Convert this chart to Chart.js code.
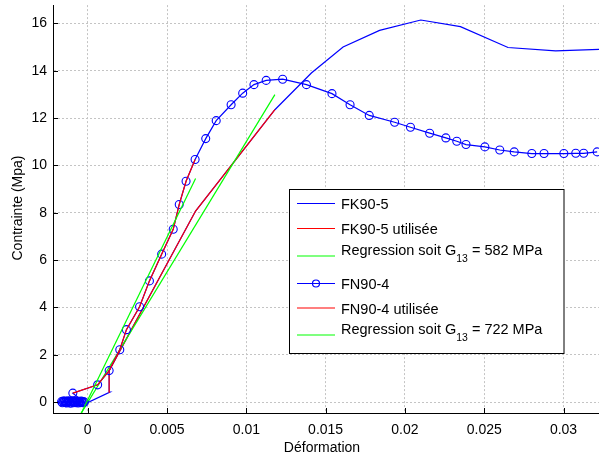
<!DOCTYPE html>
<html>
<head>
<meta charset="utf-8">
<script src="https://cdn.jsdelivr.net/npm/chart.js@4.4.0/dist/chart.umd.min.js"></script>
<style>
  html, body { margin: 0; padding: 0; background: #fff; }
  #wrap { width: 604px; height: 457px; }
</style>
</head>
<body>
<div id="wrap"><canvas id="stressChart" width="604" height="457"></canvas></div>
<script>
// axis ticks
const xTicks = [0, 0.005, 0.01, 0.015, 0.02, 0.025, 0.03];
const xTickLabels = ['0', '0.005', '0.01', '0.015', '0.02', '0.025', '0.03'];
const yTicks = [0, 2, 4, 6, 8, 10, 12, 14, 16];
const yTickLabels = ['0', '2', '4', '6', '8', '10', '12', '14', '16'];
const xMin = -0.00219, xMax = 0.03223;
const yMin = -0.46, yMax = 16.77;

// FK90-5 (blue line)
const fk905X = [-0.0016, -0.0012, -0.0008, -0.0004, -0.0001, 0.0014, 0.00135, 0.0068, 0.0118, 0.0141, 0.0161, 0.0184, 0.0210, 0.0235, 0.0265, 0.0295, 0.0323];
const fk905Y = [0.0, 0.02, 0.0, 0.03, -0.05, 0.42, 1.33, 8.07, 12.35, 13.9, 15.0, 15.7, 16.14, 15.86, 14.98, 14.84, 14.9];

// FK90-5 part used for the fit (red)
const fk905UsedX = [0.0014, 0.00135, 0.0068, 0.0118];
const fk905UsedY = [0.42, 1.33, 8.07, 12.35];

// regression FK90-5 (green)
const fk905RegX = [-0.00044, 0.0118];
const fk905RegY = [-0.5, 12.99];

// FN90-4 (blue line with circles)
const fn904X = [-0.00165, -0.0016, -0.00155, -0.0015, -0.00146, -0.00141, -0.00137, -0.00132, -0.00127, -0.00123, -0.00118,
  -0.00113, -0.00108, -0.00104, -0.00099, -0.00094, -0.0009, -0.00085, -0.0008, -0.00075, -0.0007, -0.00066, -0.00061,
  -0.00056, -0.00051, -0.00046, -0.00041, -0.00036, -0.00031, -0.00026, -0.00021,
  -0.00094, 0.000625, 0.00135, 0.00202, 0.00244, 0.00327, 0.00389, 0.00466, 0.00539, 0.00577, 0.0062, 0.00677,
  0.00744, 0.0081, 0.00904, 0.00977, 0.01048, 0.01125, 0.01229, 0.01379, 0.0154, 0.01654, 0.01775, 0.01935, 0.02035,
  0.02156, 0.02258, 0.02327, 0.02385, 0.02504, 0.02598, 0.02689, 0.028, 0.02877, 0.03002, 0.03077, 0.03127, 0.03212];
const fn904Y = [0.02, -0.03, 0.04, 0.0, 0.05, -0.02, 0.03, -0.04, 0.01, 0.06, -0.01, 0.03, -0.05, 0.02, 0.05,
  0.0, -0.03, 0.04, 0.01, -0.02, 0.05, 0.0, -0.04, 0.03, 0.01, -0.02, 0.04, 0.0, -0.03, 0.02, -0.01,
  0.38, 0.73, 1.33, 2.21, 3.06, 4.03, 5.12, 6.25, 7.3, 8.35, 9.33, 10.25,
  11.13, 11.89, 12.56, 13.05, 13.41, 13.59, 13.64, 13.41, 13.03, 12.56, 12.11, 11.82, 11.61,
  11.36, 11.16, 11.02, 10.88, 10.78, 10.65, 10.57, 10.5, 10.5, 10.5, 10.51, 10.51, 10.57];

// FN90-4 part used for the fit (red)
const fn904UsedX = [-0.00094, 0.000625, 0.00135, 0.00202, 0.00244, 0.00327, 0.00389, 0.00466, 0.00539, 0.00577, 0.0062, 0.00677];
const fn904UsedY = [0.38, 0.73, 1.33, 2.21, 3.06, 4.03, 5.12, 6.25, 7.3, 8.35, 9.33, 10.25];

// regression FN90-4 (green)
const fn904RegX = [-0.00043, 0.0068];
const fn904RegY = [-0.5, 9.45];

const legendLabels = ['FK90-5', 'FK90-5 utilisée', 'Regression soit G_{13} = 582 MPa',
                      'FN90-4', 'FN90-4 utilisée', 'Regression soit G_{13} = 722 MPa'];

const FONT = 'Liberation Sans, Arial, sans-serif';

function pts(xs, ys) {
    return xs.map((x, i) => ({ x: x, y: ys[i] }));
}

function lineSet(label, xs, ys, color, order) {
    return {
        label: label,
        data: pts(xs, ys),
        showLine: true,
        borderColor: color,
        borderWidth: 1.2,
        pointRadius: 0,
        tension: 0,
        order: order
    };
}

const datasets = [
    lineSet(legendLabels[0], fk905X, fk905Y, '#0000ff', 6),
    lineSet(legendLabels[1], fk905UsedX, fk905UsedY, '#ff0000', 5),
    lineSet(legendLabels[2], fk905RegX, fk905RegY, '#00ff00', 4),
    Object.assign(lineSet(legendLabels[3], fn904X, fn904Y, '#0000ff', 3), {
        pointRadius: 4,
        pointBorderColor: '#0000ff',
        pointBackgroundColor: 'rgba(0,0,0,0)',
        pointBorderWidth: 1.1
    }),
    lineSet(legendLabels[4], fn904UsedX, fn904UsedY, '#ff0000', 2),
    lineSet(legendLabels[5], fn904RegX, fn904RegY, '#00ff00', 1)
];

// draws text with an optional _{..} subscript part
function drawRichText(ctx, text, x, y, size) {
    const parts = text.split(/_\{(\d+)\}/);
    ctx.textBaseline = 'middle';
    ctx.textAlign = 'left';
    if (parts.length === 1) {
        ctx.font = size + 'px ' + FONT;
        ctx.fillText(text, x, y + 1.5);
        return;
    }
    let cx = x;
    parts.forEach((p, i) => {
        if (i % 2 === 1) {
            ctx.font = (size * 0.72) + 'px ' + FONT;
            ctx.fillText(p, cx, y + 3);
        } else {
            ctx.font = size + 'px ' + FONT;
            ctx.fillText(p, cx, y - 5);
        }
        cx += ctx.measureText(p).width;
    });
}

const decorPlugin = {
    id: 'decor',
    afterDraw(chart) {
        const ctx = chart.ctx;
        const area = chart.chartArea;
        const xs = chart.scales.x, ys = chart.scales.y;
        ctx.save();

        // inward tick marks
        ctx.strokeStyle = '#000';
        ctx.lineWidth = 1;
        ctx.beginPath();
        xTicks.forEach(v => {
            const px = Math.round(xs.getPixelForValue(v)) + 0.5;
            ctx.moveTo(px, area.bottom);
            ctx.lineTo(px, area.bottom - 5);
        });
        yTicks.forEach(v => {
            const py = Math.round(ys.getPixelForValue(v)) + 0.5;
            ctx.moveTo(area.left, py);
            ctx.lineTo(area.left + 5, py);
        });
        ctx.stroke();

        // axis titles
        ctx.fillStyle = '#000';
        ctx.font = '14px ' + FONT;
        ctx.textAlign = 'center';
        ctx.textBaseline = 'middle';
        ctx.fillText('Déformation', 322, 448);
        ctx.save();
        ctx.translate(18, 208);
        ctx.rotate(-Math.PI / 2);
        ctx.fillText('Contrainte (Mpa)', 0, 0);
        ctx.restore();

        // legend box
        ctx.fillStyle = '#fff';
        ctx.fillRect(289.5, 189.5, 274.5, 164);
        ctx.strokeStyle = '#000';
        ctx.lineWidth = 1;
        ctx.strokeRect(289.5, 189.5, 274.5, 164);
        const rowY = [203.5, 228.5, 256, 283.5, 308, 335];
        chart.data.datasets.forEach((ds, i) => {
            const y = rowY[i];
            ctx.strokeStyle = ds.borderColor;
            ctx.lineWidth = 1.2;
            ctx.beginPath();
            ctx.moveTo(297, y);
            ctx.lineTo(335, y);
            ctx.stroke();
            if (ds.pointRadius > 0) {
                ctx.beginPath();
                ctx.arc(316, y, 3.5, 0, Math.PI * 2);
                ctx.strokeStyle = ds.pointBorderColor;
                ctx.stroke();
            }
            ctx.fillStyle = '#000';
            drawRichText(ctx, ds.label, 341, y, 14.5);
        });
        ctx.restore();
    }
};

const ctx = document.getElementById('stressChart').getContext('2d');
const stressChart = new Chart(ctx, {
    type: 'scatter',
    data: { datasets: datasets },
    options: {
        responsive: false,
        animation: false,
        layout: { padding: { top: 3, right: 0, bottom: 0, left: 0 } },
        plugins: { legend: { display: false }, tooltip: { enabled: false } },
        scales: {
            x: {
                type: 'linear',
                min: xMin,
                max: xMax,
                afterBuildTicks: s => { s.ticks = xTicks.map(v => ({ value: v })); },
                afterFit: s => { s.height = 44; s.paddingLeft = 0; s.paddingRight = 0; },
                ticks: {
                    color: '#000',
                    font: { family: FONT, size: 14 },
                    padding: 9,
                    maxRotation: 0,
                    autoSkip: false,
                    callback: (value, index) => xTickLabels[index]
                },
                grid: { color: '#c4c4c4', lineWidth: 1, drawTicks: false },
                border: { display: true, color: '#000', width: 1, dash: [2, 2] }
            },
            y: {
                type: 'linear',
                min: yMin,
                max: yMax,
                afterBuildTicks: s => { s.ticks = yTicks.map(v => ({ value: v })); },
                afterFit: s => { s.width = 53; s.paddingTop = 0; s.paddingBottom = 0; },
                ticks: {
                    color: '#000',
                    font: { family: FONT, size: 14 },
                    padding: 6,
                    autoSkip: false,
                    callback: (value, index) => yTickLabels[index]
                },
                grid: { color: '#c4c4c4', lineWidth: 1, drawTicks: false },
                border: { display: true, color: '#000', width: 1, dash: [2, 2] }
            }
        }
    },
    plugins: [decorPlugin]
});
</script>
</body>
</html>
